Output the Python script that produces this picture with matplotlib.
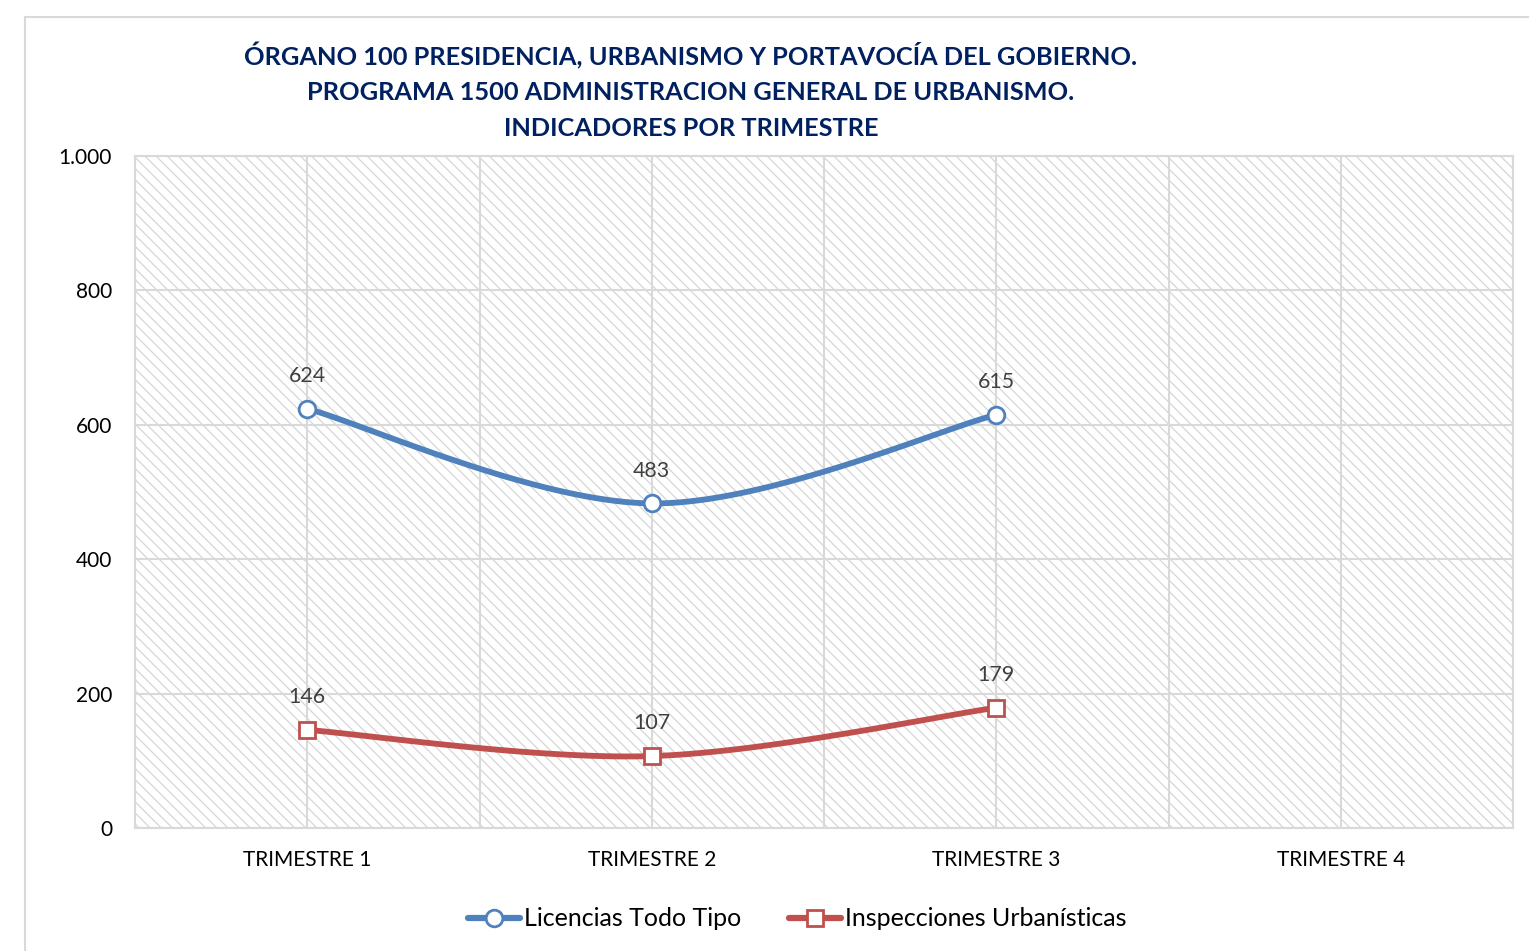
import matplotlib
matplotlib.use("Agg")
import matplotlib.pyplot as plt
import numpy as np
from matplotlib.patches import Rectangle
from matplotlib.lines import Line2D
from matplotlib.ticker import FuncFormatter, FixedLocator

categories = ["TRIMESTRE 1", "TRIMESTRE 2", "TRIMESTRE 3", "TRIMESTRE 4"]
licencias = [624, 483, 615]
inspecciones = [146, 107, 179]
series_names = ["Licencias Todo Tipo", "Inspecciones Urbanísticas"]
title_lines = ["ÓRGANO 100 PRESIDENCIA, URBANISMO Y PORTAVOCÍA DEL GOBIERNO.",
               "PROGRAMA 1500 ADMINISTRACION GENERAL DE URBANISMO.",
               "INDICADORES POR TRIMESTRE"]
y_ticks = [0, 200, 400, 600, 800, 1000]

BLUE = "#4F81BD"
RED = "#C0504D"
GRID = "#D9D9D9"
plt.rcParams['font.family'] = ['Lato', 'DejaVu Sans']
plt.rcParams['hatch.linewidth'] = 0.9
plt.rcParams['hatch.color'] = '#D6D6D6'

W, H = 1529, 951
fig = plt.figure(figsize=(W / 100, H / 100), dpi=100)

# outer chart border (top and left visible)
fig.add_artist(Line2D([25 / W, 1.0], [1 - 17 / H, 1 - 17 / H], color=GRID, lw=1.5, transform=fig.transFigure))
fig.add_artist(Line2D([25 / W, 25 / W], [0, 1 - 17 / H], color=GRID, lw=1.5, transform=fig.transFigure))

ax = fig.add_axes([135 / W, 1 - 828 / H, (1513 - 135) / W, (828 - 156) / H])
ax.set_facecolor("white")
ax.add_patch(Rectangle((0, 0), 1, 1, transform=ax.transAxes, facecolor="none",
                       edgecolor="#D6D6D6", hatch="\\\\\\", lw=0, zorder=0))

ax.set_xlim(-0.5, len(categories) - 0.5)
ax.set_ylim(0, 1000)
ax.yaxis.set_major_locator(FixedLocator(y_ticks))
ax.yaxis.set_major_formatter(FuncFormatter(lambda v, p: f"{int(v):,}".replace(",", ".")))
ax.set_xticks(range(len(categories)))
ax.set_xticklabels(categories)
ax.set_xticks(np.arange(-0.5, len(categories), 1.0), minor=True)
ax.grid(True, which="both", axis="x", color=GRID, lw=1.5, zorder=1)
ax.grid(True, which="major", axis="y", color=GRID, lw=1.5, zorder=1)
ax.set_axisbelow(True)
for s in ax.spines.values():
    s.set_color(GRID)
    s.set_linewidth(1.5)
ax.tick_params(axis="both", which="both", length=0)
ax.tick_params(axis="y", labelsize=15, pad=16.5, labelcolor="#000000")
ax.tick_params(axis="x", labelsize=15, pad=16, labelcolor="#000000")


def smooth(xs, ys, n=40):
    pts = np.column_stack([xs, ys]).astype(float)
    out = []
    m = len(pts)
    for i in range(m - 1):
        p0 = pts[i - 1] if i > 0 else pts[i]
        p1 = pts[i]
        p2 = pts[i + 1]
        p3 = pts[i + 2] if i + 2 < m else pts[i + 1]
        c1 = p1 + (p2 - p0) / 6.0
        c2 = p2 - (p3 - p1) / 6.0
        t = np.linspace(0, 1, n)[:, None]
        seg = ((1 - t) ** 3) * p1 + 3 * ((1 - t) ** 2) * t * c1 + 3 * (1 - t) * t ** 2 * c2 + t ** 3 * p2
        out.append(seg if i == 0 else seg[1:])
    a = np.vstack(out)
    return a[:, 0], a[:, 1]


for vals, color, marker, ms in [(licencias, BLUE, "o", 12), (inspecciones, RED, "s", 11)]:
    xs = np.arange(len(vals))
    sx, sy = smooth(xs, vals)
    ax.plot(sx, sy, color=color, lw=4.2, solid_capstyle="round", zorder=3)
    ax.plot(xs, vals, linestyle="none", marker=marker, ms=ms, mfc="white", mec=color, mew=2.0, zorder=4)
    for x, v in zip(xs, vals):
        ax.annotate(str(v), (x, v), xytext=(0, 16.5), textcoords="offset points", ha="center",
                    va="bottom", fontsize=15.4, color="#404040")

for i, line in enumerate(title_lines):
    fig.text(691 / W, 1 - (56 + 36 * i) / H, line, ha="center", va="center",
             fontsize=18.3, fontweight="bold", color="#002060")

handles = [Line2D([], [], color=BLUE, lw=4.5, marker="o", ms=12, mfc="white", mec=BLUE, mew=2.0,
                  solid_capstyle="round"),
           Line2D([], [], color=RED, lw=4.5, marker="s", ms=11, mfc="white", mec=RED, mew=2.0,
                  solid_capstyle="round")]
fig.legend(handles, series_names, loc="center", bbox_to_anchor=(797 / W, 1 - 919 / H), ncol=2,
           frameon=False, fontsize=18, handlelength=2.1, handletextpad=0.15, columnspacing=1.9)

fig.savefig("out.png", dpi=100)
